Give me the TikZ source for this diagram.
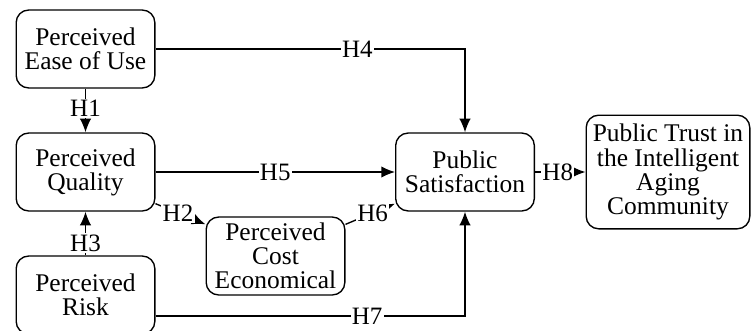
\documentclass[tikz,border=0pt]{standalone}
\usepackage{fontspec}
\setmainfont{Liberation Serif}
\usetikzlibrary{arrows.meta}

\begin{document}
\begin{tikzpicture}[x=0.44pt,y=-0.44pt,>={Latex[length=6pt,width=5pt]},line width=0.6pt]
\tikzset{
    box/.style={%
        draw,
        rectangle,
        rounded corners=5.5pt,
        minimum height=34.3pt,
        minimum width=61pt,
        align=center,
        inner sep=1pt,
        font=\fontsize{11.2}{10.6}\selectfont
        },
    hyp/.style={%
        fill=white, inner sep=0.6pt,
        font=\fontsize{11}{10.6}\selectfont
        },
}
\useasboundingbox (0,0) rectangle (751,330);
%%%CONSTRUCTS
\node[box] (peou) at (85.5,49) {Perceived\\Ease of Use};
\node[box] (pq) at (85.5,172) {Perceived\\Quality};
\node[box] (pr) at (85.5,295) {Perceived\\Risk};
\node[box] (pce) at (275.5,256) {Perceived\\Cost\\Economical};
\node[box] (ps) at (465,172) {Public\\Satisfaction};
\node[box, minimum width=72pt, minimum height=50pt] (pt) at (668,172) {Public Trust in\\the Intelligent\\Aging\\Community};
%%%HYPOTHESES
\draw[->] (peou) -- node[hyp, pos=0.45] {H1} (pq);
\draw[->] (pr) -- node[hyp, pos=0.28] {H3} (pq);
\draw[->] ([shift={(0,-8)}]pq.south east) -- node[hyp, pos=0.45] {H2} ([shift={(0,8)}]pce.north west);
\draw[->] (peou) -| node[hyp, pos=0.326] {H4} (ps);
\draw[->] (pq) -- node[hyp] {H5} (ps);
\draw[->] ([shift={(0,8)}]pce.north east) -- node[hyp, pos=0.55] {H6} ([shift={(0,-8)}]ps.south west);
\draw[->] ([shift={(0,21)}]pr.east) -| node[hyp, pos=0.342] {H7} (ps);
\draw[->] (ps) -- node[hyp, pos=0.45] {H8} (pt);
\end{tikzpicture}
\end{document}
